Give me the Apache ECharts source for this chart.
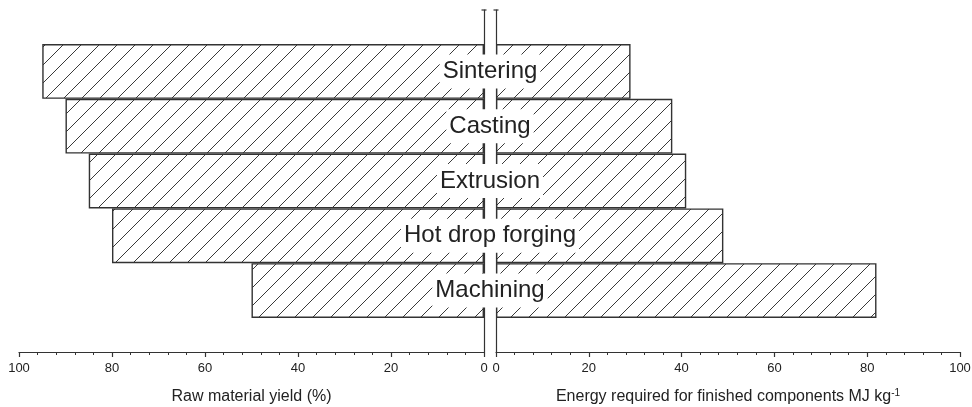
<!DOCTYPE html>
<html>
<head>
<meta charset="utf-8">
<script src="https://cdn.jsdelivr.net/npm/echarts@6/dist/echarts.min.js"></script>
<style>
html,body{margin:0;padding:0;background:#fff;}
#chart{width:972px;height:407px;}
</style>
</head>
<body>
<div id="chart"></div>
<script>
// ---- data ----
var categories = ['Sintering', 'Casting', 'Extrusion', 'Hot drop forging', 'Machining'];
var yieldPct = [95, 90, 85, 80, 50];          // Raw material yield (%)
var energyMJ = [29, 38, 41, 49, 82];          // Energy required, MJ/kg
var axisMin = 0, axisMax = 100, axisInterval = 20;
var leftName = 'Raw material yield (%)';
var rightName = 'Energy required for finished components MJ kg{sup|-1}';

// ---- hatch pattern ----
function makeHatch() {
  var s = 18;
  var c = document.createElement('canvas');
  c.width = s; c.height = s;
  var g = c.getContext('2d');
  g.fillStyle = '#ffffff';
  g.fillRect(0, 0, s, s);
  g.strokeStyle = '#3a3a3a';
  g.lineWidth = 1;
  g.beginPath();
  g.moveTo(-1, s + 1); g.lineTo(s + 1, -1);
  g.moveTo(-2, 2); g.lineTo(2, -2);
  g.moveTo(s - 2, s + 2); g.lineTo(s + 2, s - 2);
  g.stroke();
  return {image: c, repeat: 'repeat'};
}
var hatch = makeHatch();

var FONT = 'Liberation Sans, Arial, sans-serif';
var axisColor = '#333333';
var textColor = '#222222';

function tickAxis(gridIndex, inverse, name) {
  return {
    type: 'value', gridIndex: gridIndex, min: axisMin, max: axisMax, interval: axisInterval,
    inverse: inverse, position: 'bottom',
    axisLine: {show: true, lineStyle: {color: axisColor, width: 1.2}},
    axisTick: {show: true, inside: false, length: 5, lineStyle: {color: axisColor, width: 1.2}},
    minorTick: {show: true, splitNumber: 5, length: 3, lineStyle: {color: axisColor, width: 1}},
    splitLine: {show: false}, minorSplitLine: {show: false},
    axisLabel: {show: true, margin: 10, fontSize: 13, color: textColor, fontFamily: FONT},
    name: name, nameLocation: 'middle', nameGap: 36,
    nameTextStyle: {fontSize: 16, lineHeight: 18, color: textColor, fontFamily: FONT,
      rich: {sup: {fontSize: 10, lineHeight: 10, color: textColor, fontFamily: FONT, padding: [0, 0, 8, 0]}}}
  };
}
function hiddenX(gridIndex, inverse) {
  return {type: 'value', gridIndex: gridIndex, min: axisMin, max: axisMax, inverse: inverse,
    show: false, splitLine: {show: false}};
}
function barY(gridIndex) {
  return {type: 'category', gridIndex: gridIndex, data: categories, inverse: true, show: false};
}
function lineY(gridIndex, pos) {
  return {type: 'value', gridIndex: gridIndex, position: pos, min: 0, max: 1,
    axisLine: {show: true, symbol: ['none', 'rect'], symbolSize: [5, 1.2],
      lineStyle: {color: axisColor, width: 1.2}},
    axisTick: {show: false}, axisLabel: {show: false}, splitLine: {show: false}};
}

var chart = echarts.init(document.getElementById('chart'), null, {renderer: 'canvas'});
chart.setOption({
  backgroundColor: '#ffffff',
  animation: false,
  grid: [
    {left: 19, right: 488, top: 44, bottom: 89, containLabel: false, outerBoundsMode: 'none'},   // left bars
    {left: 496, right: 12, top: 44, bottom: 89, containLabel: false, outerBoundsMode: 'none'},   // right bars
    {left: 19, right: 488, top: 10, bottom: 55, containLabel: false, outerBoundsMode: 'none'},   // left axis frame
    {left: 496, right: 12, top: 10, bottom: 55, containLabel: false, outerBoundsMode: 'none'}    // right axis frame
  ],
  xAxis: [
    hiddenX(0, true),
    hiddenX(1, false),
    tickAxis(2, true, leftName),
    tickAxis(3, false, rightName)
  ],
  yAxis: [
    barY(0), barY(1),
    lineY(2, 'right'), lineY(3, 'left')
  ],
  series: [
    {
      type: 'bar', xAxisIndex: 0, yAxisIndex: 0, data: yieldPct,
      barCategoryGap: '0%', z: 2,
      itemStyle: {color: hatch, borderColor: '#333333', borderWidth: 1.4},
      emphasis: {disabled: true}
    },
    {
      type: 'bar', xAxisIndex: 1, yAxisIndex: 1, data: energyMJ,
      barCategoryGap: '0%', z: 3,
      itemStyle: {color: hatch, borderColor: '#333333', borderWidth: 1.4},
      emphasis: {disabled: true},
      label: {
        show: true, formatter: '{b}', position: [-6, '50%'],
        align: 'center', verticalAlign: 'middle',
        fontSize: 24, fontFamily: FONT, color: textColor,
        backgroundColor: '#ffffff', padding: [5, 3, 5, 3], lineHeight: 24
      }
    }
  ]
});
</script>
</body>
</html>
